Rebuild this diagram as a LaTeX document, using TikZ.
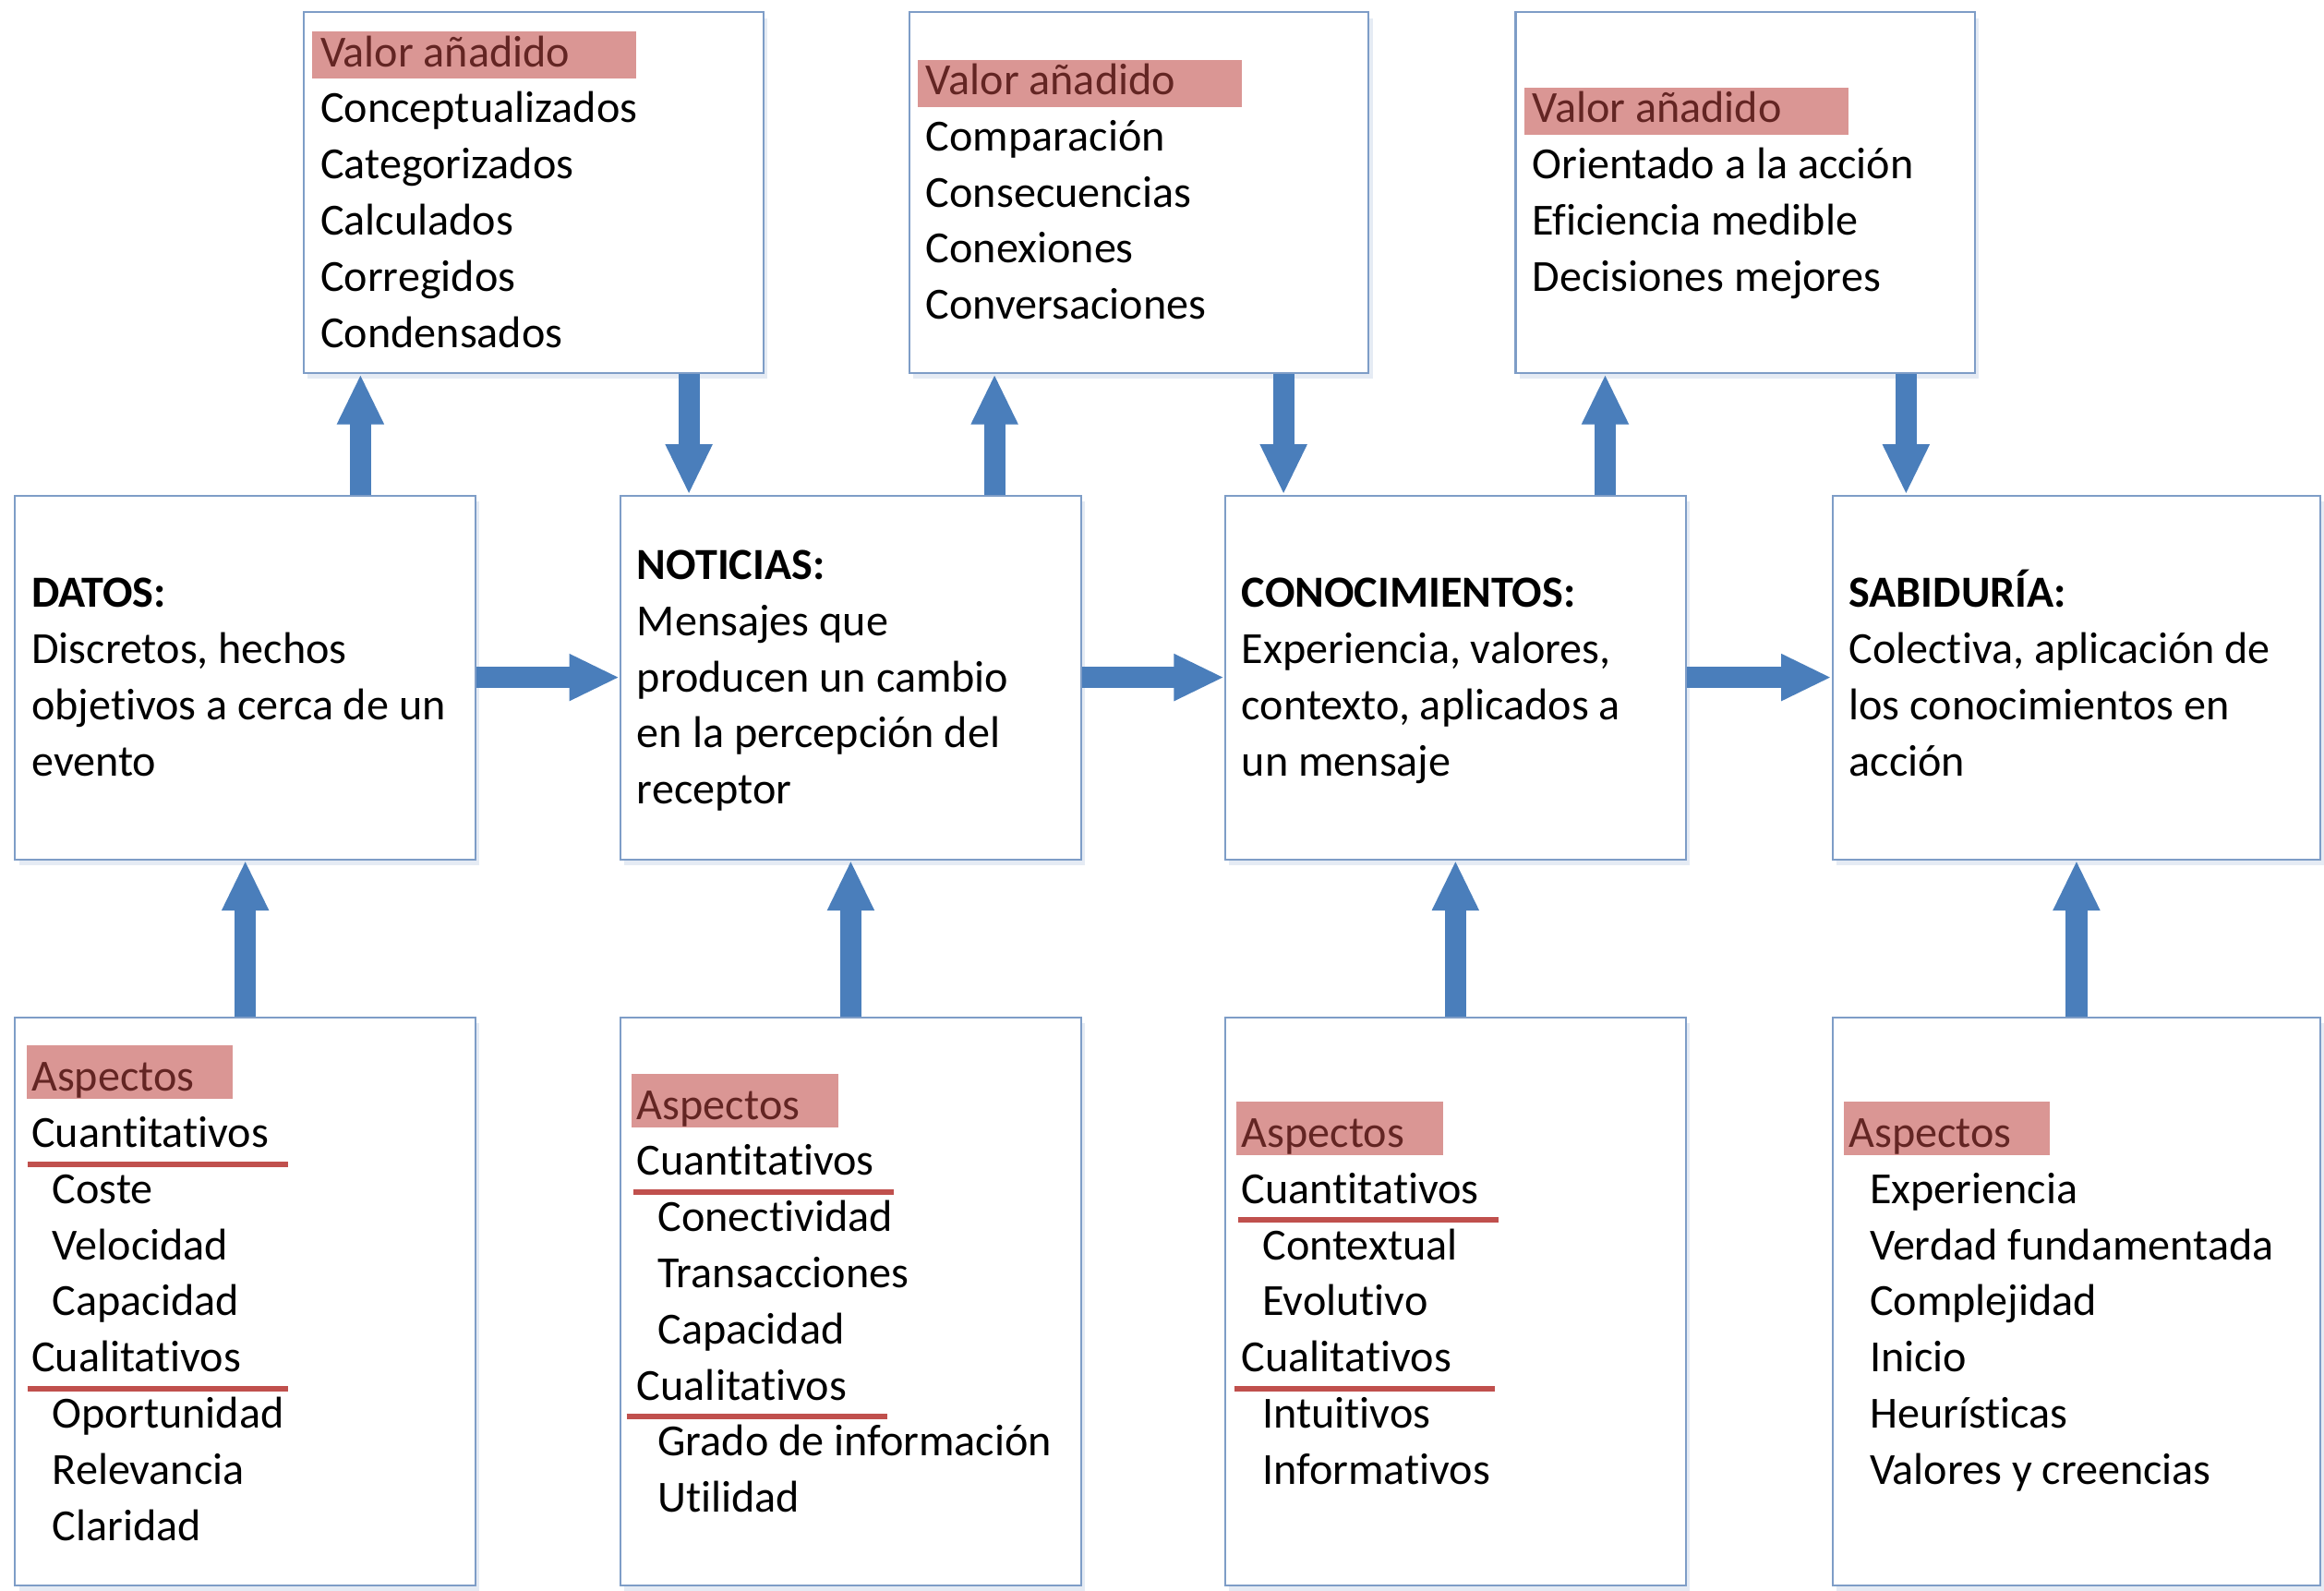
\documentclass[tikz,border=0pt]{standalone}
\usepackage{fontspec}
\setmainfont[Ligatures=NoCommon]{Carlito}
\usetikzlibrary{arrows.meta,shadows}
\definecolor{boxline}{RGB}{126,157,199}
\definecolor{arrowblue}{RGB}{74,126,187}
\definecolor{hlfill}{RGB}{218,150,148}
\definecolor{hltext}{RGB}{99,37,35}
\definecolor{ulred}{RGB}{192,80,77}
\newcommand\lnstrut{\rule[-4.65pt]{0pt}{17.3pt}}
\newcommand\nxl{\lnstrut\\}
\newcommand\hlva[1]{\smash{\makebox[0pt][l]{\hspace{-2.5pt}\textcolor{hlfill}{\rule[-3.7pt]{99.9pt}{14.5pt}}}}\textcolor{hltext}{#1}}
\newcommand\hlasp[1]{\smash{\makebox[0pt][l]{\hspace{-1.6pt}\textcolor{hlfill}{\rule[-2.5pt]{63.6pt}{16.5pt}}}}\textcolor{hltext}{#1}}
\newcommand\ulword[2]{\smash{\makebox[0pt][l]{\hspace{#1}\textcolor{ulred}{\rule[-6pt]{80.2pt}{1.7pt}}}}#2}
\newcommand\itm{\hspace*{6.4pt}}
\begin{document}
\begin{tikzpicture}[x=0.016052cm, y=-0.016052cm,
  box/.style={draw=boxline, line width=0.6pt, fill=white, rectangle, inner sep=0pt,
    drop shadow={shadow xshift=1.2pt, shadow yshift=-1.8pt, fill=boxline!45, opacity=0.45}},
  topbox/.style={box, minimum width=141.5pt, minimum height=111.2pt},
  midbox/.style={box, minimum width=141.9pt, minimum height=112.1pt},
  botbox/.style={box, minimum width=141.9pt, minimum height=175pt},
  txt/.style={anchor=west, align=left, inner sep=0pt, font=\fontsize{13.7}{17.3}\selectfont},
  blockarr/.style={draw=arrowblue, line width=6.6pt, -{Triangle[length=15.5pt, width=13.4pt]}}]
\useasboundingbox (0,0) rectangle (1568,1073);

% boxes
\node[topbox] (t1) at (360,130) {};
\node[topbox] (t2) at (768.5,130) {};
\node[topbox] (t3) at (1177.5,130) {};
\node[midbox] (m1) at (165.5,457) {};
\node[midbox] (m2) at (574,457) {};
\node[midbox] (m3) at (982,457) {};
\node[midbox, minimum width=150.4pt] (m4) at (1401,457) {};
\node[botbox] (b1) at (165.5,878) {};
\node[botbox] (b2) at (574,878) {};
\node[botbox] (b3) at (982,878) {};
\node[botbox, minimum width=150.4pt] (b4) at (1401,878) {};

% texts
\node[txt] (t1txt) at ([xshift=5.2pt,yshift=-0.4pt]t1.west) {\hlva{Valor añadido}\nxl
Conceptualizados\nxl Categorizados\nxl Calculados\nxl Corregidos\nxl Condensados\lnstrut};
\node[txt] (t2txt) at ([xshift=5.2pt,yshift=-0.4pt]t2.west) {\hlva{Valor añadido}\nxl
Comparación\nxl Consecuencias\nxl Conexiones\nxl Conversaciones\lnstrut};
\node[txt] (t3txt) at ([xshift=5.2pt,yshift=-0.4pt]t3.west) {\hlva{Valor añadido}\nxl
Orientado a la acción\nxl Eficiencia medible\nxl Decisiones mejores\lnstrut};

\node[txt] (m1txt) at ([xshift=5.2pt,yshift=-0.4pt]m1.west) {\textbf{DATOS:}\nxl Discretos, hechos\nxl objetivos a cerca de un\nxl evento\lnstrut};
\node[txt] (m2txt) at ([xshift=5.2pt,yshift=-0.4pt]m2.west) {\textbf{NOTICIAS:}\nxl Mensajes que\nxl producen un cambio\nxl en la percepción del\nxl receptor\lnstrut};
\node[txt] (m3txt) at ([xshift=5.2pt,yshift=-0.4pt]m3.west) {\textbf{CONOCIMIENTOS:}\nxl Experiencia, valores,\nxl contexto, aplicados a\nxl un mensaje\lnstrut};
\node[txt] (m4txt) at ([xshift=5.2pt,yshift=-0.4pt]m4.west) {\textbf{SABIDURÍA:}\nxl Colectiva, aplicación de\nxl los conocimientos en\nxl acción\lnstrut};

\node[txt] (b1txt) at ([xshift=5.2pt,yshift=-0.4pt]b1.west) {\hlasp{Aspectos}\nxl
\ulword{-1.2pt}{Cuantitativos}\nxl \itm Coste\nxl \itm Velocidad\nxl \itm Capacidad\nxl
\ulword{-1.2pt}{Cualitativos}\nxl \itm Oportunidad\nxl \itm Relevancia\nxl \itm Claridad\lnstrut};
\node[txt] (b2txt) at ([xshift=5.2pt,yshift=-0.4pt]b2.west) {\hlasp{Aspectos}\nxl
\ulword{-1.2pt}{Cuantitativos}\nxl \itm Conectividad\nxl \itm Transacciones\nxl \itm Capacidad\nxl
\ulword{-3.2pt}{Cualitativos}\nxl \itm Grado de información\nxl \itm Utilidad\lnstrut};
\node[txt] (b3txt) at ([xshift=5.2pt,yshift=-0.4pt]b3.west) {\hlasp{Aspectos}\nxl
\ulword{-1pt}{Cuantitativos}\nxl \itm Contextual\nxl \itm Evolutivo\nxl
\ulword{-2.3pt}{Cualitativos}\nxl \itm Intuitivos\nxl \itm Informativos\lnstrut};
\node[txt] (b4txt) at ([xshift=5.2pt,yshift=-0.4pt]b4.west) {\hlasp{Aspectos}\nxl
\itm Experiencia\nxl \itm Verdad fundamentada\nxl \itm Complejidad\nxl \itm Inicio\nxl
\itm Heurísticas\nxl \itm Valores y creencias\lnstrut};

% arrow columns
\coordinate (u1) at (243.2,0);
\coordinate (d1) at (464.8,0);
\coordinate (u2) at (671,0);
\coordinate (d2) at (866,0);
\coordinate (u3) at (1083,0);
\coordinate (d3) at (1286,0);

% arrows
\draw[blockarr] (u1 |- m1.north) -- (u1 |- t1.south);
\draw[blockarr] (d1 |- t1.south) -- (d1 |- m2.north);
\draw[blockarr] (u2 |- m2.north) -- (u2 |- t2.south);
\draw[blockarr] (d2 |- t2.south) -- (d2 |- m3.north);
\draw[blockarr] (u3 |- m3.north) -- (u3 |- t3.south);
\draw[blockarr] (d3 |- t3.south) -- (d3 |- m4.north);

\draw[blockarr] (m1.east) -- (m2.west);
\draw[blockarr] (m2.east) -- (m3.west);
\draw[blockarr] (m3.east) -- (m4.west);

\draw[blockarr] (b1.north) -- (m1.south);
\draw[blockarr] (b2.north) -- (m2.south);
\draw[blockarr] (b3.north) -- (m3.south);
\draw[blockarr] (b4.north) -- (m4.south);
\end{tikzpicture}
\end{document}
